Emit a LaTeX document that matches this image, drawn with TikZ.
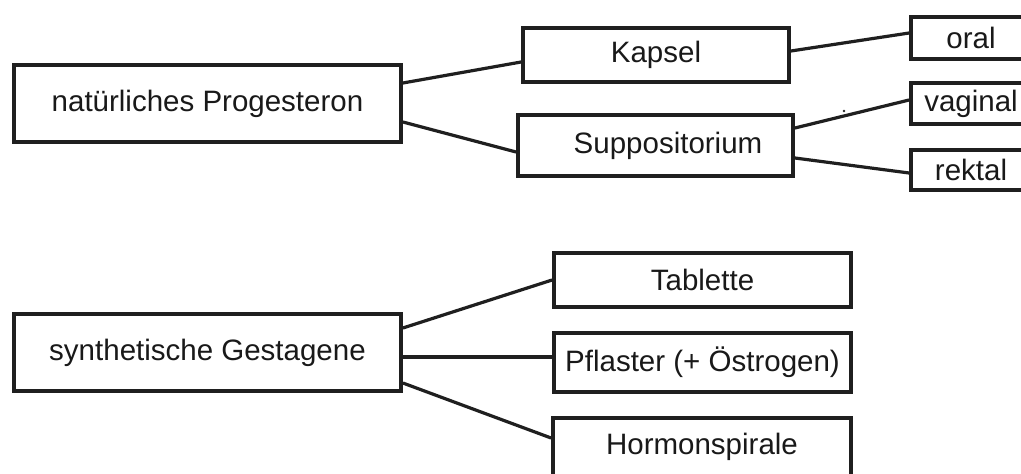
\documentclass[tikz,border=0pt]{standalone}
\usepackage{fontspec}
\setmainfont{Liberation Sans}
\begin{document}
\begin{tikzpicture}[x=1pt,y=-1pt,
  box/.style={draw=black!88,line width=3.8pt,rectangle,inner sep=0pt,
    font=\fontsize{29.5}{32}\selectfont,text=black!90},
  link/.style={draw=black!88,line width=3.2pt}]
\useasboundingbox (0,0) rectangle (1021,474);
\fill[white] (0,0) rectangle (1021,474);
\node[box,minimum width=387pt,minimum height=77pt] (np) at (207.5,103.5) {natürliches Progesteron};
\node[box,minimum width=266pt,minimum height=54pt] (kap) at (656,55) {Kapsel};
\node[box,minimum width=275pt,minimum height=61pt] (sup) at (655.5,145.5) {\hspace*{25pt}Suppositorium};
\node[box,minimum width=120pt,minimum height=42pt] (oral) at (971,38) {oral};
\node[box,minimum width=120pt,minimum height=41pt] (vag) at (971,103.5) {vaginal};
\node[box,minimum width=120pt,minimum height=40pt] (rek) at (971,170) {rektal};
\node[box,minimum width=387pt,minimum height=77pt] (sg) at (207.5,352.5) {synthetische Gestagene};
\node[box,minimum width=297pt,minimum height=54pt] (tab) at (702.5,280) {Tablette};
\node[box,minimum width=297pt,minimum height=59pt] (pfl) at (702.5,362.5) {Pflaster (+ Östrogen)};
\node[box,minimum width=298pt,minimum height=58pt] (hor) at (702,447) {Hormonspirale};
\fill[black!85] (844,111) circle (1.4pt);
\draw[link] ([yshift=20.5pt]np.east) -- ([yshift=-7pt]kap.west);
\draw[link] ([yshift=-18.5pt]np.east) -- ([yshift=-6.5pt]sup.west);
\draw[link] ([yshift=4pt]kap.east) -- ([yshift=5pt]oral.west);
\draw[link] ([yshift=17.5pt]sup.east) -- ([yshift=3.5pt]vag.west);
\draw[link] ([yshift=-12.5pt]sup.east) -- ([yshift=-3pt]rek.west);
\draw[link] ([yshift=24.5pt]sg.east) -- (tab.west);
\draw[link] ([yshift=-4.5pt]sg.east) -- ([yshift=5.5pt]pfl.west);
\draw[link] ([yshift=-30.5pt]sg.east) -- ([yshift=9pt]hor.west);
\end{tikzpicture}
\end{document}
